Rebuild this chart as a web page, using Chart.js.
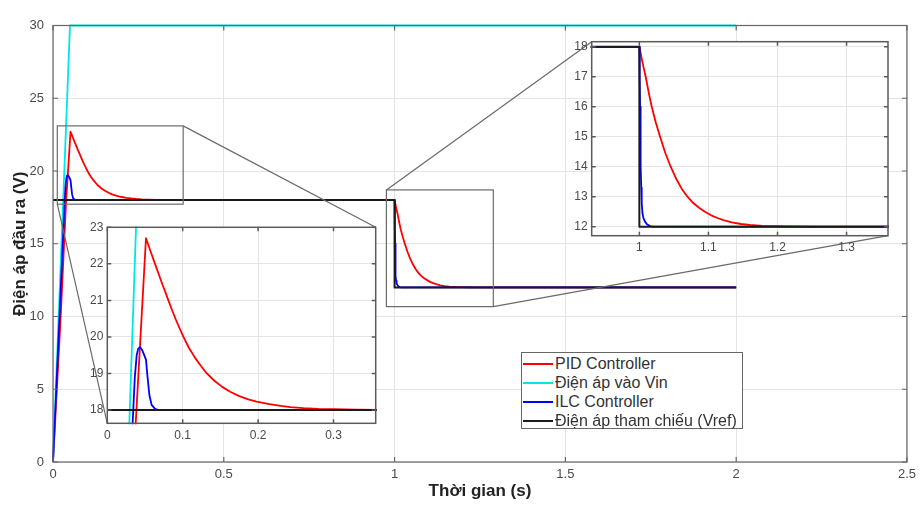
<!DOCTYPE html>
<html>
<head>
<meta charset="utf-8">
<script src="https://cdn.jsdelivr.net/npm/chart.js@4.4.1/dist/chart.umd.min.js"></script>
<style>
html,body{margin:0;padding:0;background:#fff;}
#wrap{position:relative;width:921px;height:518px;overflow:hidden;font-family:"Liberation Sans",Arial,sans-serif;}
#wrap canvas{position:absolute;}
#legend{position:absolute;left:521px;top:352px;width:220px;height:75px;border:1px solid #666;background:#fff;}
.row{position:absolute;left:0;width:218px;height:19px;line-height:19px;font-size:16px;color:#333;white-space:nowrap;}
.sw{position:absolute;left:1px;top:9px;width:30px;height:2px;}
.lt{position:absolute;left:33px;top:0;}
</style>
</head>
<body>
<div id="wrap">
  <canvas id="main" width="921" height="518" style="left:0;top:0;width:921px;height:518px"></canvas>
  <canvas id="zoomA" width="315" height="235" style="left:70px;top:215px;width:315px;height:235px"></canvas>
  <canvas id="zoomB" width="350" height="232" style="left:560px;top:30px;width:350px;height:232px"></canvas>
  <div id="legend"></div>
</div>
<script>
// ---------- data ----------
const seriesNames = ['PID Controller', 'Điện áp vào Vin', 'ILC Controller', 'Điện áp tham chiếu (Vref)'];
const seriesColors = ['#ff0000', '#00e6e6', '#0000ff', '#1a1a1a'];

const pidTime = [0, 0.0225, 0.0377, 0.0513, 0.055, 0.059, 0.0633, 0.068, 0.073, 0.078, 0.081, 0.086, 0.091, 0.096, 0.101,
                 0.108, 0.116, 0.124, 0.132, 0.142, 0.152, 0.163, 0.175, 0.187, 0.198, 0.215, 0.23, 0.243, 0.26, 0.28, 0.30, 0.33, 0.36,
                 1.0, 1.003, 1.006, 1.0092, 1.0135, 1.0179, 1.024, 1.030, 1.0377, 1.0454, 1.0535, 1.0615, 1.0696, 1.078, 1.0865, 1.095,
                 1.104, 1.113, 1.1217, 1.134, 1.147, 1.16, 1.178, 1.196, 1.2135, 1.25, 2.0];
const pidVolt = [0, 10, 17.64, 22.7, 22.48, 22.25, 22.0, 21.73, 21.44, 21.17, 21.0, 20.73, 20.47, 20.23, 20.0,
                 19.71, 19.44, 19.21, 19.0, 18.8, 18.64, 18.5, 18.38, 18.29, 18.23, 18.16, 18.11, 18.08, 18.05, 18.03, 18.02, 18.01, 18.0,
                 18.0, 17.65, 17.32, 17.0, 16.48, 16.0, 15.46, 15.0, 14.45, 14.0, 13.59, 13.26, 13.0, 12.79, 12.63, 12.5,
                 12.38, 12.29, 12.22, 12.145, 12.09, 12.06, 12.03, 12.02, 12.01, 12.0, 12.0];

const vinTime = [0, 0.0497, 2.0];
const vinVolt = [0, 30, 30];

const ilcTime = [0, 0.0336, 0.0365, 0.039, 0.041, 0.0434, 0.046, 0.049, 0.0513, 0.0531, 0.0558, 0.0588, 0.0633, 0.068,
                 1.0, 1.0005, 1.001, 1.0015, 1.0022, 1.0028, 1.0034, 1.0045, 1.006, 1.0082, 1.011, 1.0155, 1.02, 2.0];
const ilcVolt = [0, 17.64, 18.9, 19.5, 19.68, 19.72, 19.65, 19.5, 19.38, 18.96, 18.41, 18.14, 18.03, 18.0,
                 18.0, 17.0, 16.0, 15.0, 14.0, 13.3, 12.8, 12.45, 12.28, 12.17, 12.08, 12.02, 12.0, 12.0];

const refTime = [0, 1.0, 1.0, 2.0];
const refVolt = [18, 18, 12, 12];

// axis limits and ticks
const mainXRange = [0, 2.5];
const mainYRange = [0, 30];
const mainXTicks = [0, 0.5, 1, 1.5, 2, 2.5];
const mainYTicks = [0, 5, 10, 15, 20, 25, 30];
const zoomAXRange = [0, 0.356];
const zoomAYRange = [17.636, 23];
const zoomAXTicks = [0, 0.1, 0.2, 0.3];
const zoomAYTicks = [18, 19, 20, 21, 22, 23];
const zoomBXRange = [0.931, 1.36];
const zoomBYRange = [11.7, 18.17];
const zoomBXTicks = [1, 1.1, 1.2, 1.3];
const zoomBYTicks = [12, 13, 14, 15, 16, 17, 18];

// zoom rectangles on the main axes (data coordinates)
const zoomRectA = {x0: 0.0126, x1: 0.381, y0: 17.72, y1: 23.1};
const zoomRectB = {x0: 0.976, x1: 1.289, y0: 10.68, y1: 18.7};

// ---------- layout ----------
const insetA = {left: 70, top: 215, area: {l: 37.3, t: 12.3, r: 305.7, b: 208.3}};
const insetB = {left: 560, top: 30, area: {l: 31.7, t: 11.7, r: 328, b: 205.7}};

const GRID = '#e4e4e4';
const TICKC = '#4a4a4a';
const FRAME = '#5a5a5a';
Chart.defaults.font.family = '"Liberation Sans", Arial, Helvetica, sans-serif';

function pts(t, v) { return t.map((tt, i) => ({x: tt, y: v[i]})); }
function makeDatasets(lw, clip) {
  const sets = [[pidTime, pidVolt, 3], [vinTime, vinVolt, 2], [ilcTime, ilcVolt, 1], [refTime, refVolt, 0]];
  return sets.map((s, i) => ({
    label: seriesNames[i], data: pts(s[0], s[1]), order: s[2],
    borderColor: seriesColors[i], backgroundColor: seriesColors[i],
    borderWidth: i === 3 ? lw + 0.2 : lw, pointRadius: 0, tension: 0, fill: false, clip: clip,
    borderJoinStyle: 'round'
  }));
}
function axis(range, ticks, o) {
  return {
    type: 'linear', min: range[0], max: range[1],
    afterBuildTicks: s => { s.ticks = ticks.map(v => ({value: v})); },
    afterFit: s => { if (s.isHorizontal()) s.height = o.size; else s.width = o.size; },
    grid: {color: GRID, drawTicks: false, lineWidth: 1},
    border: {display: false},
    ticks: {padding: o.pad, color: TICKC, font: {size: o.font}, maxRotation: 0, autoSkip: false, callback: v => String(v)},
    title: o.title || {display: false}
  };
}
const framePlugin = {
  id: 'frame',
  beforeDraw(chart, args, opts) {
    if (!opts.fill) return;
    const a = chart.chartArea, ctx = chart.ctx;
    ctx.save(); ctx.fillStyle = '#fff';
    ctx.fillRect(a.left, a.top, a.right - a.left, a.bottom - a.top);
    ctx.restore();
  },
  afterDatasetsDraw(chart, args, opts) {
    const {ctx, chartArea: a, scales: {x, y}} = chart;
    ctx.save();
    ctx.strokeStyle = opts.color; ctx.lineWidth = opts.width;
    const L = opts.tick;
    ctx.beginPath();
    x.ticks.forEach(t => { const p = x.getPixelForValue(t.value);
      ctx.moveTo(p, a.bottom); ctx.lineTo(p, a.bottom - L); ctx.moveTo(p, a.top); ctx.lineTo(p, a.top + L); });
    y.ticks.forEach(t => { const p = y.getPixelForValue(t.value);
      ctx.moveTo(a.left, p); ctx.lineTo(a.left + L, p); ctx.moveTo(a.right, p); ctx.lineTo(a.right - L, p); });
    ctx.stroke();
    ctx.strokeRect(a.left, a.top, a.right - a.left, a.bottom - a.top);
    ctx.restore();
  }
};
const zoomMarks = {
  id: 'zoomMarks',
  afterDatasetsDraw(chart) {
    const {ctx, scales: {x, y}} = chart;
    const rect = r => ({l: x.getPixelForValue(r.x0), r: x.getPixelForValue(r.x1), t: y.getPixelForValue(r.y1), b: y.getPixelForValue(r.y0)});
    const A = rect(zoomRectA), B = rect(zoomRectB);
    const ia = {l: insetA.left + insetA.area.l, t: insetA.top + insetA.area.t, r: insetA.left + insetA.area.r, b: insetA.top + insetA.area.b};
    const ib = {l: insetB.left + insetB.area.l, t: insetB.top + insetB.area.t, r: insetB.left + insetB.area.r, b: insetB.top + insetB.area.b};
    ctx.save();
    ctx.strokeStyle = '#6a6a6a'; ctx.lineWidth = 1.2;
    [A, B].forEach(r => ctx.strokeRect(r.l, r.t, r.r - r.l, r.b - r.t));
    ctx.beginPath();
    ctx.moveTo(A.r, A.t); ctx.lineTo(ia.r, ia.t);
    ctx.moveTo(A.l, A.b); ctx.lineTo(ia.l, ia.b);
    ctx.moveTo(B.l, B.t); ctx.lineTo(ib.l, ib.t);
    ctx.moveTo(B.r, B.b); ctx.lineTo(ib.r, ib.b);
    ctx.stroke();
    ctx.restore();
  }
};

// ---------- main chart ----------
new Chart(document.getElementById('main'), {
  type: 'line',
  data: {datasets: makeDatasets(1.8, {left: 2, top: 3, right: 2, bottom: 2})},
  plugins: [framePlugin, zoomMarks],
  options: {
    responsive: false, animation: false, devicePixelRatio: 1,
    layout: {padding: {left: 0, top: 25.5, right: 13, bottom: 0}},
    plugins: {legend: {display: false}, tooltip: {enabled: false},
      frame: {color: '#666', width: 1.2, tick: 5, fill: false}},
    scales: {
      x: axis(mainXRange, mainXTicks, {size: 56, pad: 5, font: 13,
        title: {display: true, text: 'Thời gian (s)', color: '#222', font: {size: 17, weight: 'bold'}, padding: {top: 0, bottom: 16}}}),
      y: axis(mainYRange, mainYTicks, {size: 53, pad: 9, font: 13,
        title: {display: true, text: 'Điện áp đầu ra (V)', color: '#222', font: {size: 17, weight: 'bold'}, padding: {top: 10, bottom: 0}}})
    }
  }
});

// ---------- insets ----------
function inset(id, geo, w, h, xr, yr, xt, yt) {
  return new Chart(document.getElementById(id), {
    type: 'line',
    data: {datasets: makeDatasets(1.8, 1)},
    plugins: [framePlugin],
    options: {
      responsive: false, animation: false, devicePixelRatio: 1,
      layout: {padding: {left: 0, top: geo.area.t, right: w - geo.area.r, bottom: 0}},
      plugins: {legend: {display: false}, tooltip: {enabled: false},
        frame: {color: FRAME, width: 1.5, tick: 4, fill: true}},
      scales: {
        x: axis(xr, xt, {size: h - geo.area.b, pad: 5, font: 12}),
        y: axis(yr, yt, {size: geo.area.l, pad: 4, font: 12})
      }
    }
  });
}
inset('zoomA', insetA, 315, 235, zoomAXRange, zoomAYRange, zoomAXTicks, zoomAYTicks);
inset('zoomB', insetB, 350, 232, zoomBXRange, zoomBYRange, zoomBXTicks, zoomBYTicks);

// ---------- legend ----------
const lg = document.getElementById('legend');
seriesNames.forEach((name, i) => {
  const row = document.createElement('div');
  row.className = 'row';
  row.style.top = (1 + i * 19) + 'px';
  const sw = document.createElement('div'); sw.className = 'sw'; sw.style.backgroundColor = seriesColors[i];
  const tx = document.createElement('div'); tx.className = 'lt'; tx.textContent = name;
  row.appendChild(sw); row.appendChild(tx); lg.appendChild(row);
});
</script>
</body>
</html>
